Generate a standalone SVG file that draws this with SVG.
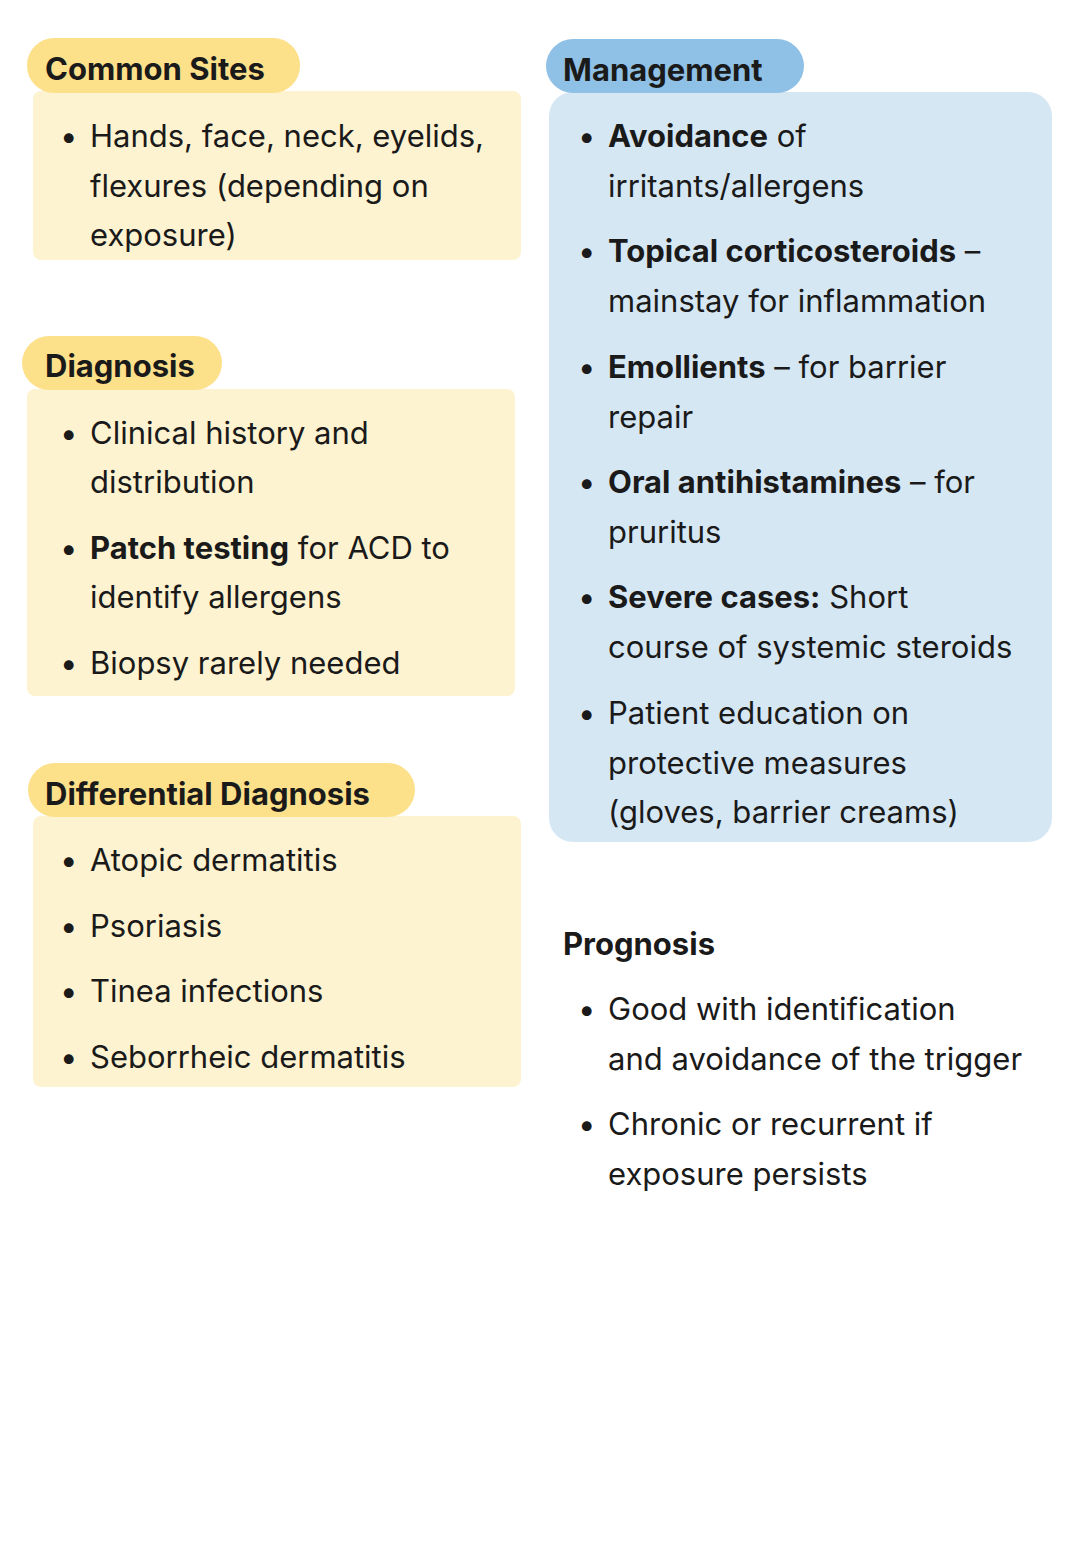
<svg xmlns="http://www.w3.org/2000/svg" width="1080" height="1560" viewBox="0 0 1080 1560">
<style>
text{font-family:Inter,"Open Sans","Liberation Sans",sans-serif;fill:#1a1a1a}
.t{font-size:31px}
.h{font-size:31px;font-weight:700}
b,.b{font-weight:700}
.yp{fill:#fde08a}.yb{fill:#fef3d0}.bp{fill:#8fc0e6}.bb{fill:#d6e7f4}
</style>
<rect width="1080" height="1560" fill="#fff"/>
<g id="common">
<rect class="yb" x="33" y="91" width="488" height="169" rx="8"/>
<rect class="yp" x="27" y="38" width="273" height="55" rx="27"/>
<text class="h" x="45" y="80">Common Sites</text>
<text class="t" x="60" y="147">•</text>
<text class="t" x="90" y="147">Hands, face, neck, eyelids,</text>
<text class="t" x="90" y="197">flexures (depending on</text>
<text class="t" x="90" y="246">exposure)</text>
</g>
<g id="diagnosis">
<rect class="yb" x="27" y="389" width="488" height="307" rx="8"/>
<rect class="yp" x="22" y="336" width="200" height="54" rx="27"/>
<text class="h" x="45" y="377">Diagnosis</text>
<text class="t" x="60" y="444">•</text>
<text class="t" x="90" y="444">Clinical history and</text>
<text class="t" x="90" y="493">distribution</text>
<text class="t" x="60" y="559">•</text>
<text class="t" x="90" y="559"><tspan class="b">Patch testing</tspan> for ACD to</text>
<text class="t" x="90" y="608">identify allergens</text>
<text class="t" x="60" y="674">•</text>
<text class="t" x="90" y="674">Biopsy rarely needed</text>
</g>
<g id="differential">
<rect class="yb" x="33" y="816" width="488" height="271" rx="8"/>
<rect class="yp" x="28" y="763" width="387" height="54" rx="27"/>
<text class="h" x="45" y="805">Differential Diagnosis</text>
<text class="t" x="60" y="871">•</text><text class="t" x="90" y="871">Atopic dermatitis</text>
<text class="t" x="60" y="937">•</text><text class="t" x="90" y="937">Psoriasis</text>
<text class="t" x="60" y="1002">•</text><text class="t" x="90" y="1002">Tinea infections</text>
<text class="t" x="60" y="1068">•</text><text class="t" x="90" y="1068">Seborrheic dermatitis</text>
</g>
<g id="management">
<rect class="bb" x="549" y="92" width="503" height="750" rx="24"/>
<rect class="bp" x="546" y="39" width="258" height="54" rx="27"/>
<text class="h" x="563" y="81">Management</text>
<text class="t" x="578" y="147">•</text><text class="t" x="608" y="147"><tspan class="b">Avoidance</tspan> of</text>
<text class="t" x="608" y="197">irritants/allergens</text>
<text class="t" x="578" y="262">•</text><text class="t" x="608" y="262"><tspan class="b">Topical corticosteroids</tspan> –</text>
<text class="t" x="608" y="312">mainstay for inflammation</text>
<text class="t" x="578" y="378">•</text><text class="t" x="608" y="378"><tspan class="b">Emollients</tspan> – for barrier</text>
<text class="t" x="608" y="428">repair</text>
<text class="t" x="578" y="493">•</text><text class="t" x="608" y="493"><tspan class="b">Oral antihistamines</tspan> – for</text>
<text class="t" x="608" y="543">pruritus</text>
<text class="t" x="578" y="608">•</text><text class="t" x="608" y="608"><tspan class="b">Severe cases:</tspan> Short</text>
<text class="t" x="608" y="658">course of systemic steroids</text>
<text class="t" x="578" y="724">•</text><text class="t" x="608" y="724">Patient education on</text>
<text class="t" x="608" y="774">protective measures</text>
<text class="t" x="608" y="823">(gloves, barrier creams)</text>
</g>
<g id="prognosis">
<text class="h" x="563" y="955">Prognosis</text>
<text class="t" x="578" y="1020">•</text><text class="t" x="608" y="1020">Good with identification</text>
<text class="t" x="608" y="1070">and avoidance of the trigger</text>
<text class="t" x="578" y="1135">•</text><text class="t" x="608" y="1135">Chronic or recurrent if</text>
<text class="t" x="608" y="1185">exposure persists</text>
</g>
<g id="connectors"/>
</svg>
